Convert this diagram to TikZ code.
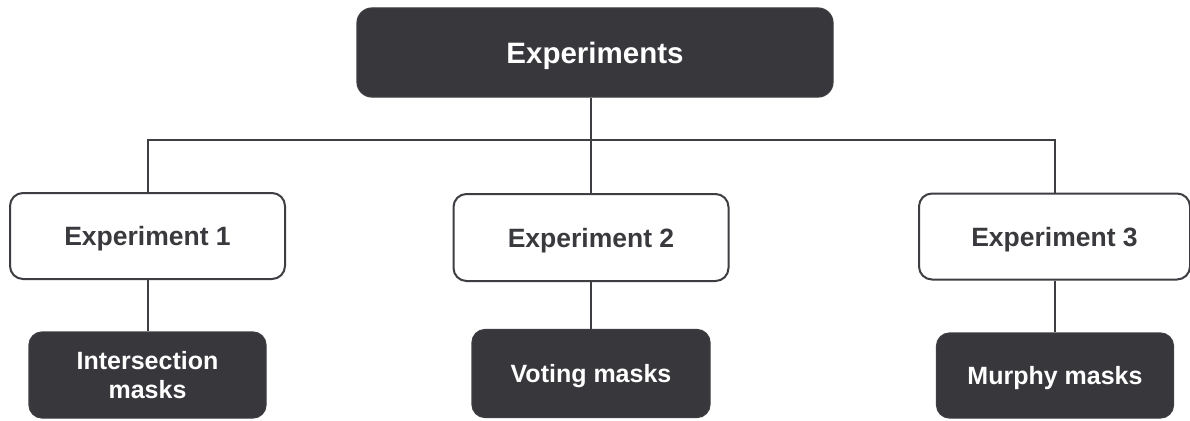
\documentclass[tikz,border=0pt]{standalone}
\usepackage{fontspec}
\setmainfont{Liberation Sans}
\definecolor{boxdark}{HTML}{37373C}
\definecolor{edgegray}{HTML}{3E3E42}
\definecolor{textgray}{HTML}{3A3A3E}
\begin{document}
\begin{tikzpicture}[x=1pt,y=-1pt,
  darkbox/.style={draw=edgegray, fill=boxdark, line width=1.2pt, rounded corners=13pt,
    text=white, font=\fontsize{25}{29}\selectfont\bfseries, align=center, inner sep=0pt},
  lightbox/.style={draw=edgegray, fill=white, line width=2pt, rounded corners=13pt,
    text=textgray, font=\fontsize{26.5}{30}\selectfont\bfseries, align=center, inner sep=0pt,
    text depth=0pt},
  link/.style={draw=edgegray, line width=2pt}]
  % canvas
  \fill[white] (0,0) rectangle (1190,420);
  \useasboundingbox (0,0) rectangle (1190,420);

  % root
  \node[darkbox, minimum width=476pt, minimum height=89pt, rounded corners=15pt,
        text depth=0pt, font=\fontsize{29.5}{33}\selectfont\bfseries] (top) at (595,52.5) {Experiments};

  % experiment level
  \node[lightbox, minimum width=275pt, minimum height=86pt] (e1) at (147.5,236) {Experiment 1};
  \node[lightbox, minimum width=275pt, minimum height=87pt] (e2) at (591,237.5) {Experiment 2};
  \node[lightbox, minimum width=271pt, minimum height=86pt] (e3) at (1054.5,236.5) {Experiment 3};

  % mask level
  \node[darkbox, minimum width=237pt, minimum height=86pt] (m1) at (147.5,375) {Intersection\\masks};
  \node[darkbox, minimum width=238pt, minimum height=88pt, text depth=0pt] (m2) at (591,373.5) {Voting masks};
  \node[darkbox, minimum width=237pt, minimum height=85pt, text depth=0pt] (m3) at (1055,375.5) {Murphy masks};

  % connectors
  \coordinate (bus) at (0,140);
  \draw[link] (e2.north) -- (e2.north |- top.south);
  \draw[link] (e1.north) -- (e1.north |- bus) -- (e3.north |- bus) -- (e3.north);
  \draw[link] (e1.south) -- (e1.south |- m1.north);
  \draw[link] (e2.south) -- (e2.south |- m2.north);
  \draw[link] (e3.south) -- (e3.south |- m3.north);
\end{tikzpicture}
\end{document}
